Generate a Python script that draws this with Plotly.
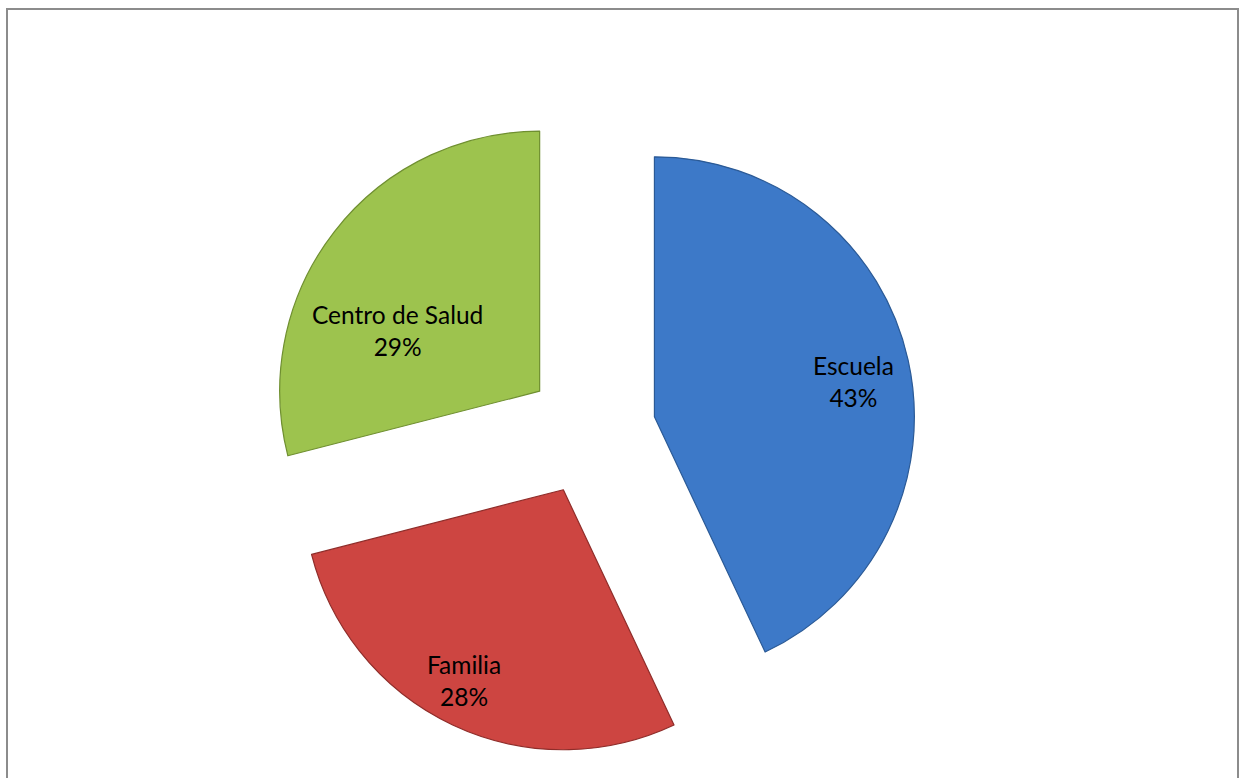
import plotly.graph_objects as go

categories = ["Escuela", "Familia", "Centro de Salud"]
values = [43, 28, 29]
pct_labels = ["43%", "28%", "29%"]

fill_colors = ["#3d79c8", "#cd4541", "#9dc34e"]
edge_colors = ["#2b5a96", "#8f2d2a", "#6f8f30"]

fig = go.Figure()
fig.add_trace(go.Pie(
    labels=categories,
    values=values,
    sort=False,
    direction="clockwise",
    rotation=0,
    pull=[0.25, 0.25, 0.25],
    marker=dict(colors=fill_colors, line=dict(color=edge_colors, width=1.2)),
    textinfo="none",
    hoverinfo="label+percent",
    showlegend=False,
    domain=dict(x=[0.2137, 0.7357], y=[0.0283, 0.8638]),
))

# label positions (paper fraction)
label_pos = [(853 / 1245, 1 - 381 / 778), (464 / 1245, 1 - 680 / 778), (397 / 1245, 1 - 330 / 778)]
for cat, pct, (px, py) in zip(categories, pct_labels, label_pos):
    fig.add_annotation(
        x=px, y=py, xref="paper", yref="paper",
        text=f"{cat}<br>{pct}", showarrow=False,
        font=dict(family="Lato, Carlito, 'Open Sans', sans-serif", size=24.5, color="#000000"),
        align="center", xanchor="center", yanchor="middle",
    )

fig.add_shape(
    type="rect", xref="paper", yref="paper",
    x0=7 / 1245, x1=1238 / 1245, y0=-0.05, y1=1 - 9 / 778,
    line=dict(color="#8c8c8c", width=2), fillcolor="rgba(0,0,0,0)", layer="below",
)

fig.update_layout(
    width=1245, height=778,
    margin=dict(l=0, r=0, t=0, b=0),
    paper_bgcolor="#ffffff", plot_bgcolor="#ffffff",
)

fig.write_html(
    "out.html",
    config={"displayModeBar": False},
    post_script="document.body.style.margin='0';document.body.style.overflow='hidden';",
)
